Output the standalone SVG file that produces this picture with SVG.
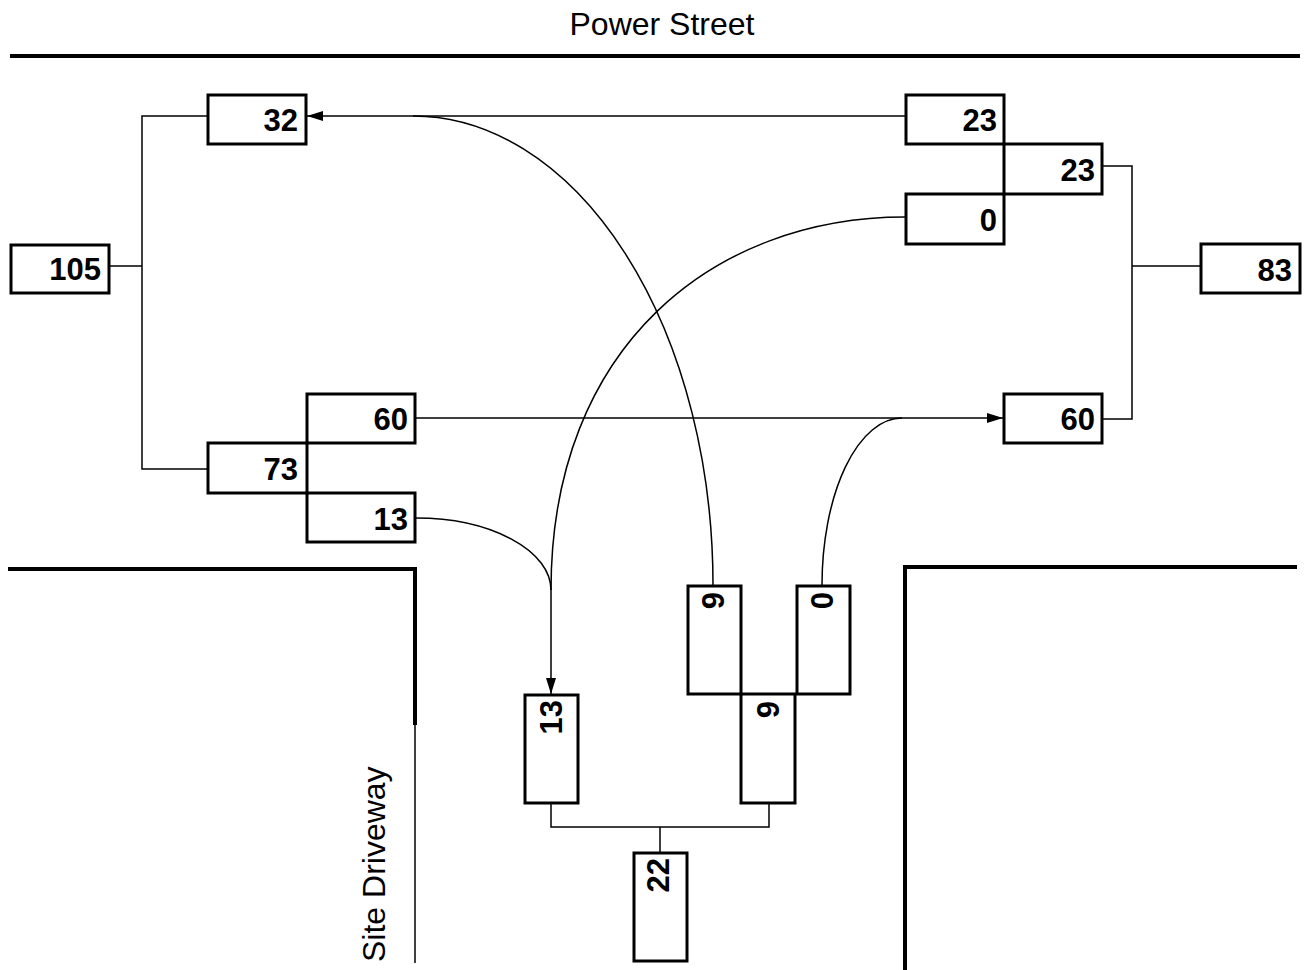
<svg xmlns="http://www.w3.org/2000/svg" width="1304" height="970" viewBox="0 0 1304 970">
<style>
.bg{fill:#fff}
.box{fill:none;stroke:#000;stroke-width:3}
.num{font-family:"Liberation Sans",Arial,sans-serif;font-weight:bold;font-size:31px;fill:#000;text-anchor:end}
.lbl{font-family:"Liberation Sans",Arial,sans-serif;font-size:32px;fill:#000}
.road{fill:none;stroke:#000;stroke-width:4}
.thin{fill:none;stroke:#000;stroke-width:1.5}
.con{fill:none;stroke:#000;stroke-width:1.5}
</style>
<defs>
<marker id="arr" markerUnits="userSpaceOnUse" markerWidth="16" markerHeight="10" refX="16" refY="5" orient="auto">
<path d="M0,0 L16,5 L0,10 z" fill="#000"/>
</marker>
</defs>
<rect class="bg" x="0" y="0" width="1304" height="970"/>

<g id="roads">
<text class="lbl" x="662" y="35" text-anchor="middle">Power Street</text>
<path class="road" d="M10,56 H1300"/>
<path class="road" d="M8,569 H415 V725"/>
<path class="thin" d="M415,725 V963"/>
<path class="road" d="M905,970 V567 H1297"/>
<text class="lbl" transform="translate(385,962) rotate(-90)">Site Driveway</text>
</g>

<g id="connectors">
<path class="con" d="M207,116 H142 V469 H207 M109,266 H142"/>
<path class="con" d="M1103,166 H1132 V419 H1103 M1200,266 H1132"/>
<path class="con" d="M551,804 V827 H769 V804 M660,827 V852"/>
<path class="con" d="M905,116 H307" marker-end="url(#arr)"/>
<path class="con" d="M713,585 A300,469 0 0 0 413,116"/>
<path class="con" d="M416,418 H1003" marker-end="url(#arr)"/>
<path class="con" d="M822,585 A80,167 0 0 1 902,418"/>
<path class="con" d="M905,217 C715,217 551,345 551,590 L551,694" marker-end="url(#arr)"/>
<path class="con" d="M416,518 A135,72 0 0 1 551,590"/>
</g>

<g id="n32"><rect class="box" x="208" y="95" width="98" height="49"/><text class="num" x="298" y="131">32</text></g>
<g id="n105"><rect class="box" x="11" y="245" width="98" height="48"/><text class="num" x="101" y="280">105</text></g>
<g id="n23a"><rect class="box" x="906" y="95" width="98" height="49"/><text class="num" x="997" y="131">23</text></g>
<g id="n23b"><rect class="box" x="1004" y="144" width="98" height="50"/><text class="num" x="1095" y="181">23</text></g>
<g id="n0"><rect class="box" x="906" y="194" width="98" height="50"/><text class="num" x="997" y="231">0</text></g>
<g id="n83"><rect class="box" x="1201" y="244" width="99" height="49"/><text class="num" x="1292" y="281">83</text></g>
<g id="n60L"><rect class="box" x="307" y="394" width="108" height="49"/><text class="num" x="408" y="430">60</text></g>
<g id="n73"><rect class="box" x="208" y="443" width="99" height="50"/><text class="num" x="298" y="480">73</text></g>
<g id="n13L"><rect class="box" x="307" y="493" width="108" height="49"/><text class="num" x="408" y="530">13</text></g>
<g id="n60R"><rect class="box" x="1004" y="394" width="98" height="49"/><text class="num" x="1095" y="430">60</text></g>
<g id="n13B"><rect class="box" x="525" y="695" width="53" height="108"/><text class="num" transform="translate(562,700) rotate(-90)">13</text></g>
<g id="n9a"><rect class="box" x="688" y="586" width="53" height="108"/><text class="num" transform="translate(724,592) rotate(-90)">9</text></g>
<g id="n0a"><rect class="box" x="797" y="586" width="53" height="108"/><text class="num" transform="translate(833,592) rotate(-90)">0</text></g>
<g id="n9b"><rect class="box" x="741" y="694" width="54" height="109"/><text class="num" transform="translate(779,701) rotate(-90)">9</text></g>
<g id="n22"><rect class="box" x="634" y="853" width="53" height="108"/><text class="num" transform="translate(669,858) rotate(-90)">22</text></g>
</svg>
